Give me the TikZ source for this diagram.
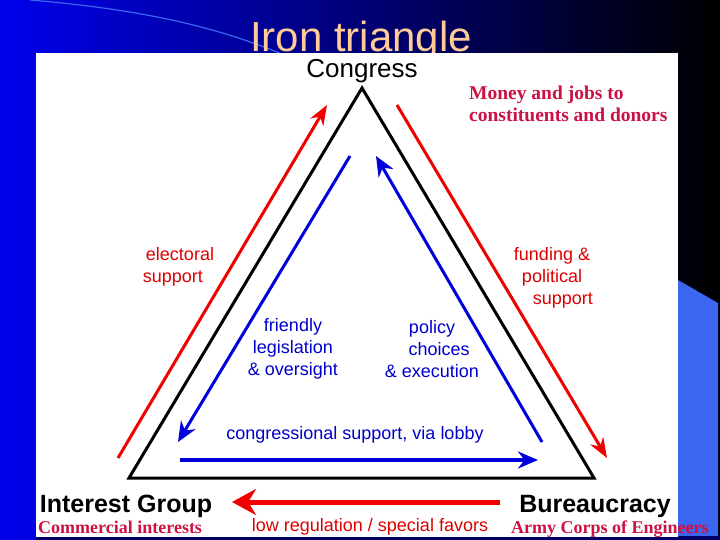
\documentclass[tikz,border=0pt]{standalone}
\usepackage{fontspec}
\setmainfont{Liberation Sans}
\newfontfamily\labelserif{Liberation Serif}
\usetikzlibrary{arrows.meta, positioning}
\definecolor{slideblue}{RGB}{0,0,235}
\definecolor{slidemid}{RGB}{0,0,175}
\definecolor{lightblue}{RGB}{59,102,240}
\definecolor{titlecol}{RGB}{255,204,153}
\definecolor{crimsonlbl}{RGB}{204,17,68}
\definecolor{redlbl}{RGB}{221,0,0}
\definecolor{bluelbl}{RGB}{0,0,204}
\definecolor{arrowred}{RGB}{240,0,0}
\definecolor{arrowblue}{RGB}{0,0,220}
\tikzstyle{corner} = [font=\fontsize{25}{28}\selectfont\bfseries, text=black, inner sep=0pt]
\tikzstyle{example} = [font=\labelserif\fontsize{18}{22}\selectfont\bfseries, text=crimsonlbl, inner sep=0pt]
\tikzstyle{redtext} = [font=\fontsize{18}{22}\selectfont, text=redlbl, align=center, inner sep=0pt]
\tikzstyle{bluetext} = [font=\fontsize{18}{22}\selectfont, text=bluelbl, align=center, inner sep=0pt]
\tikzstyle{redarrow} = [line width=3pt, arrowred, -{Stealth[length=20pt, width=15pt]}]
\tikzstyle{bluearrow} = [line width=3pt, arrowblue, -{Stealth[length=20pt, width=17pt]}]
\begin{document}
\begin{tikzpicture}[x=1pt, y=-1pt]
        \useasboundingbox (0,0) rectangle (720,540);
        % Slide background
        \shade[left color=slideblue, middle color=slidemid, right color=black] (0,0) rectangle (720,540);
        \draw[lightblue, line width=1.2pt] (30,0) .. controls (150,10) and (230,30) .. (300,62);
        \fill[lightblue] (678,280) -- (718,303) -- (718,540) -- (678,540) -- cycle;
        \fill[black!60!blue] (36,536) rectangle (720,540);
        \begin{scope}
            \clip (0,0) rectangle (720,53);
            \node (title) [anchor=base, text=titlecol, text depth=0pt, font=\fontsize{42}{42}\selectfont, inner sep=0pt] at (361,52) {Iron triangle};
        \end{scope}
        \fill[white] (36,53) rectangle (678,537);

        % Triangle
        \coordinate (apex) at (362,88);
        \coordinate (left) at (129,478);
        \coordinate (right) at (594,478);
        \draw[line width=3pt, line join=miter] (apex) -- (left) -- (right) -- cycle;

        % Corners
        \node (congress) [anchor=base, text height=18pt, font=\fontsize{26}{28}\selectfont, inner sep=0pt] at (362,78) {Congress};
        \node (interest) [corner, anchor=base] at (126,512) {Interest Group};
        \node (bureau) [corner, anchor=base] at (595,512) {Bureaucracy};
        \node (commercial) [example, anchor=base west] at (38,533) {Commercial interests};
        \node (corps) [example, anchor=base west] at (511,533) {Army Corps of Engineers};
        \node (money) [example, font=\labelserif\fontsize{19.5}{22}\selectfont\bfseries, anchor=north west, align=left] at (469,86) {Money and jobs to\\constituents and donors};

        % Labels
        \node (electoral) [redtext] at (180,267) {electoral\\\hspace*{-0.8em}support};
        \node (funding) [redtext] at (552,278) {funding \&\\political\\\hspace*{1.2em}support};
        \node (friendly) [bluetext] at (293,349) {friendly\\legislation\\\& oversight};
        \node (policy) [bluetext] at (432,349) {policy\\\hspace*{0.8em}choices\\\& execution};
        \node (lobby) [bluetext] at (355,435) {congressional support, via lobby};
        \node (favors) [redtext, anchor=base] at (370,531) {low regulation / special favors};

        % Arrow ends
        \coordinate (es0) at (118,458);
        \coordinate (es1) at (327,105);
        \coordinate (fs0) at (397,105);
        \coordinate (fs1) at (607,458);
        \coordinate (fl0) at (350,156);
        \coordinate (fl1) at (178,442);
        \coordinate (pc0) at (542,442);
        \coordinate (pc1) at (376,156);
        \coordinate (cs0) at (180,460);
        \coordinate (cs1) at (538,460);
        \coordinate (rf0) at (500,502);
        \coordinate (rf1) at (232,502);

        % Arrows
        \draw [redarrow] (es0) -- (es1);
        \draw [redarrow] (fs0) -- (fs1);
        \draw [bluearrow] (fl0) -- (fl1);
        \draw [bluearrow] (pc0) -- (pc1);
        \draw [bluearrow, line width=4pt] (cs0) -- (cs1);
        \draw [redarrow, line width=5pt, -{Stealth[length=24pt, width=26pt]}] (rf0) -- (rf1);
    \end{tikzpicture}
\end{document}
